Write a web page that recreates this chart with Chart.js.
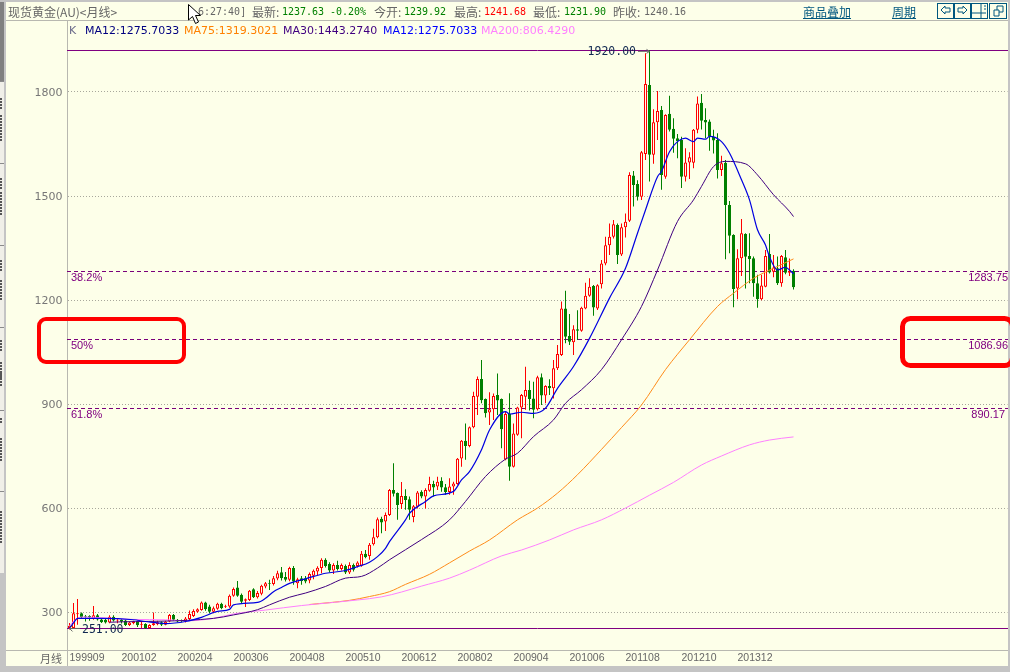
<!DOCTYPE html>
<html lang="zh"><head><meta charset="utf-8"><title>现货黄金</title>
<script src="https://cdn.jsdelivr.net/npm/chart.js@4"></script>
<style>
html,body{margin:0;padding:0;background:#fdffe9;overflow:hidden}
#wrap{position:relative;width:1010px;height:672px;overflow:hidden}
canvas{position:absolute;left:0;top:0}
.t{position:absolute;white-space:pre;line-height:14px;top:5px;font:10px/14px "DejaVu Sans Mono",monospace;color:#666}
.c{font:12px/14px "Noto Sans CJK SC",sans-serif;color:#666}
.g{color:#008000}.r{color:#ff0000}
.l{font:12px/14px "Noto Sans CJK SC",sans-serif;color:#00577f;text-decoration:underline}
.m{top:24px;font:11px/14px "DejaVu Sans",sans-serif}
.b{position:absolute;top:3px;height:14px;width:15px;border:1px solid #00577f}
svg{position:absolute;left:0;top:0}
</style></head><body><div id="wrap">
<canvas id="c" width="1010" height="672"></canvas>
<span class="t c" style="left:8px;top:5px">现货黄金(AU)&lt;月线&gt;</span>
<span class="t" style="left:198px">6:27:40]</span>
<span class="t c" style="left:252px">最新:</span><span class="t g" style="left:282px">1237.63</span><span class="t g" style="left:330px">-0.20%</span>
<span class="t c" style="left:374px">今开:</span><span class="t g" style="left:404px">1239.92</span>
<span class="t c" style="left:454px">最高:</span><span class="t r" style="left:484px">1241.68</span>
<span class="t c" style="left:533px">最低:</span><span class="t g" style="left:564px">1231.90</span>
<span class="t c" style="left:613px">昨收:</span><span class="t" style="left:644px">1240.16</span>
<span class="t l" style="left:803px">商品叠加</span><span class="t l" style="left:892px">周期</span>
<span class="t m" style="left:69px;color:#6a6a8a">K</span>
<span class="t m" style="left:85px;color:#000080">MA12:1275.7033</span>
<span class="t m" style="left:184px;color:#ff8000">MA75:1319.3021</span>
<span class="t m" style="left:283px;color:#400080">MA30:1443.2740</span>
<span class="t m" style="left:383px;color:#0000ff">MA12:1275.7033</span>
<span class="t m" style="left:481px;color:#ff80ff">MA200:806.4290</span>
<span class="t c" style="left:40px;top:651px;font-size:11px">月线</span>
<div class="b" style="left:937px"></div><div class="b" style="left:954px"></div><div class="b" style="left:971px"></div><div class="b" style="left:989px;width:16px"></div>
<svg width="1010" height="40" viewBox="0 0 1010 40">
<path d="M941 10l4-4v2h5v4h-5v2z M958 8h5v-2l4 4-4 4v-2h-5z" fill="none" stroke="#00577f"/>
<path d="M972 13h14M981 4v14M984 6h2M984 9h2" fill="none" stroke="#00577f"/>
<path d="M994 10h5v6h-5zM997 10v-4h6v6h-4" fill="none" stroke="#00577f"/>
<path d="M188.500 4.500V20l4-3.500 3 7 3-1.500-3-6.500h5z" fill="#fff" stroke="#000"/>
</svg>
</div>
<script>
const tickLabels=['199909','200102','200204','200306','200408','200510','200612','200802','200904','201006','201108','201210','201312'];
const tickSlots=[0,13,27,41,55,69,83,97,111,125,139,153,167];
const yTicks=[300,600,900,1200,1500,1800];
const slotCount=235;

const opens=[255,255,295,298,290,290,281,292,280,279,271,288,277,279,277,264,269,274,265,267,255,264,266,272,265,274,293,279,277,274,281,290,302,307,329,317,302,311,325,316,317,348,372,351,334,336,367,344,354,375,385,382,398,416,402,394,428,384,399,399,392,406,418,428,452,440,421,437,425,434,415,437,434,435,469,463,497,517,570,562,581,653,644,613,636,626,575,605,648,634,651,670,663,680,661,647,663,670,744,795,780,834,922,973,915,876,886,927,915,741,872,720,812,891,922,941,917,886,978,925,953,946,1004,1042,1176,1097,1079,1116,1112,1176,1213,1241,1176,1246,1306,1358,1383,1417,1332,1410,1429,1559,1535,1498,1621,1820,1619,1713,1748,1556,1737,1694,1667,1662,1556,1597,1596,1691,1769,1719,1715,1671,1662,1575,1596,1474,1388,1234,1321,1391,1327,1321,1249,1203,1239,1333,1282,1292,1249,1324,1279,1285];
const closes=[262,298,298,286,288,286,292,280,272,271,288,277,279,273,264,271,274,263,267,255,264,269,272,265,273,293,279,274,275,283,296,304,309,329,309,302,312,325,312,318,348,368,348,331,338,363,344,356,377,384,383,399,413,399,394,428,389,396,391,389,411,420,429,452,434,421,437,425,437,415,437,423,444,469,459,495,517,569,559,581,653,642,610,636,624,596,606,646,634,653,670,660,677,660,647,663,672,743,795,780,834,924,973,912,874,886,924,911,828,872,720,816,891,927,941,915,884,978,925,953,946,1004,1045,1176,1095,1080,1116,1112,1178,1213,1239,1179,1243,1306,1358,1383,1419,1330,1410,1426,1561,1532,1498,1626,1823,1619,1713,1745,1561,1734,1691,1665,1659,1556,1597,1612,1691,1767,1717,1712,1671,1660,1575,1595,1474,1386,1232,1321,1393,1325,1319,1249,1203,1242,1327,1280,1294,1249,1327,1279,1285,1237];
const highs=[270,327,339,300,293,292,319,296,282,281,292,292,281,281,279,273,276,276,274,269,266,300,276,275,276,296,296,281,280,287,306,309,312,332,331,322,317,328,328,322,352,372,391,355,340,365,370,362,380,388,394,405,420,431,417,432,434,400,405,405,415,424,433,456,456,445,442,449,441,438,445,441,448,477,480,500,541,574,576,588,656,730,646,676,655,634,610,650,652,658,691,680,691,690,670,687,677,745,797,845,836,936,980,1028,917,935,931,989,917,879,932,845,893,930,1008,968,965,982,989,955,972,1028,1071,1196,1227,1160,1128,1171,1181,1250,1263,1244,1246,1316,1383,1421,1431,1421,1421,1450,1569,1572,1546,1630,1912,1920,1750,1803,1760,1736,1789,1724,1679,1671,1638,1626,1693,1787,1794,1753,1721,1691,1681,1616,1604,1486,1390,1347,1434,1393,1393,1326,1273,1273,1345,1391,1330,1326,1330,1345,1320,1289];
const lows=[251,254,265,283,274,276,279,277,270,268,269,274,269,268,261,261,266,258,255,253,253,262,263,261,263,272,276,272,272,271,277,287,299,305,305,298,298,308,309,313,314,345,345,325,316,333,342,340,350,370,365,378,393,392,389,390,380,370,380,384,384,396,408,413,430,415,411,421,421,411,411,418,430,432,456,452,493,514,528,535,578,634,567,598,596,567,560,600,629,600,648,634,653,648,639,639,639,668,720,740,776,831,869,903,862,840,855,869,773,739,680,718,809,802,884,882,860,882,898,903,927,917,999,1039,1076,1071,1042,1085,1109,1174,1210,1155,1172,1234,1301,1330,1378,1304,1327,1381,1425,1470,1487,1489,1604,1542,1593,1662,1518,1550,1686,1625,1609,1523,1542,1549,1580,1681,1692,1667,1631,1623,1551,1558,1318,1335,1180,1203,1270,1234,1249,1210,1178,1200,1237,1277,1266,1244,1239,1275,1270,1231];

const ma12Slots=[0,1,2,8,16,19,24,29,33,37,40,41,47,49,51,53,55,59,64,69,72,75,77,79,80,84,85,89,91,96,98,100,103,105,109,110,113,116,119,122,126,130,135,139,142,144,147,148,150,152,154,156,157,159,160,163,165,168,170,172,174,175,177,179,180,181];
const ma12Values=[255,270,283,283,279,274,268,274,286,303,309,322,329,341,360,372,384,397,413,421,432,445,461,485,504,567,586,620,636,649,682,706,769,826,879,872,877,874,889,946,1009,1090,1206,1292,1393,1460,1556,1571,1628,1657,1667,1657,1667,1664,1672,1657,1624,1547,1489,1403,1359,1325,1287,1295,1287,1276];
const ma30Slots=[10,36,41,47,50,55,59,64,69,73,77,80,88,95,99,104,109,112,116,121,124,128,133,138,143,147,152,156,158,161,164,169,172,176,180,181];
const ma30Values=[272,283,293,308,322,344,356,375,399,404,428,452,510,567,620,692,742,759,807,855,903,942,1000,1086,1182,1287,1427,1489,1528,1585,1600,1593,1561,1504,1456,1441];
const ma75Slots=[60,70,75,80,84,90,95,100,105,112,117,122,127,133,138,143,149,155,162,166,171,176,181];
const ma75Values=[323,335,346,360,381,410,443,477,509,567,601,644,697,770,833,898,1000,1086,1182,1220,1263,1292,1319];
const ma200Slots=[0,1,2,3,16,24,29,36,41,49,58,66,72,78,83,88,95,100,108,113,120,126,133,139,145,151,158,163,170,175,181];
const ma200Values=[261,275,283,287,280,279,276,283,296,307,320,329,336,345,359,376,399,422,463,480,509,538,567,601,638,675,725,751,783,797,806];

const extremeLevels=[1920,254];
const fibLevels=[1283.75,1086.96,890.17];
const fibPercents=['38.2%','50%','61.8%'];
const fibValueLabels=['1283.75','1086.96','890.17'];

const BG='#fdffe9',RED='#ff0000',GREEN='#008000';
const labels=Array.from({length:slotCount},(_,i)=>{const k=tickSlots.indexOf(i);return k>=0?tickLabels[k]:'';});
const up=opens.map((o,i)=>closes[i]>=o);
const sparse=(slots,vals)=>{const a=Array(slotCount).fill(null);slots.forEach((s,i)=>a[s]=vals[i]);return a;};
const maLine=(label,slots,vals,color,order,w)=>({type:'line',label,data:sparse(slots,vals),borderColor:color,borderWidth:w,pointRadius:0,spanGaps:true,cubicInterpolationMode:'monotone',order});

const frame={id:'frame',
 beforeDraw(ch){const c=ch.ctx;c.save();
  c.fillStyle=BG;c.fillRect(0,0,1010,672);
  c.fillStyle='#c4c4c4';c.fillRect(0,0,1010,2);c.fillRect(1008,0,2,672);c.fillRect(0,666,1010,6);c.fillRect(4,0,2,672);
  c.fillStyle='#f0efe8';c.fillRect(0,2,4,664);
  c.fillStyle='#808080';c.fillRect(0,2,4,80);
  c.fillStyle='#c4c4c4';c.fillRect(0,573,4,95);
  c.fillStyle='#8a8a8a';[81,163,245,327,410,491].forEach(y=>c.fillRect(0,y,4,1));
  c.fillStyle='#555';[[98,12],[115,26],[178,10],[192,24],[260,12],[280,20],[340,12],[362,18],[372,14],[418,6],[438,22],[511,32]].forEach(([y,h])=>{for(let k=0;k<h;k+=3)c.fillRect(0,y+k,2,2);});
  c.fillStyle='#b8b8b0';c.fillRect(6,20,1002,1);c.fillRect(6,650,1002,1);c.fillRect(67,21,1,645);
  c.restore();},
 beforeDatasetsDraw(ch){const c=ch.ctx,y=ch.scales.y,L=67,R=1008;c.save();c.lineWidth=1;
  c.strokeStyle='#800080';extremeLevels.forEach(v=>{const p=Math.round(y.getPixelForValue(v))+.5;c.beginPath();c.moveTo(L,p);c.lineTo(R,p);c.stroke();});
  c.strokeStyle='#7a007a';c.setLineDash([4,3]);fibLevels.forEach(v=>{const p=Math.round(y.getPixelForValue(v))+.5;c.beginPath();c.moveTo(L,p);c.lineTo(R,p);c.stroke();});
  c.restore();},
 afterDatasetsDraw(ch){const c=ch.ctx,y=ch.scales.y,x=ch.scales.x;c.save();
  c.font='11px "Liberation Sans"';c.fillStyle='#800080';c.textBaseline='middle';
  fibLevels.forEach((v,i)=>{const p=y.getPixelForValue(v)+7;c.textAlign='left';c.fillText(fibPercents[i],71,p);c.textAlign='right';c.fillText(fibValueLabels[i],i==2?1005:1008,p);});
  const hiX=x.getPixelForValue(145),hiY=y.getPixelForValue(1920),loX=x.getPixelForValue(0),loY=y.getPixelForValue(254);
  c.font='11.500px "DejaVu Sans Mono"';c.fillStyle='#102850';
  c.textAlign='right';c.fillText('1920.00',636,hiY+2);
  c.textAlign='left';c.fillText('251.00',82,loY+2);
  c.strokeStyle='#666';c.lineWidth=1;c.beginPath();
  c.moveTo(638,hiY+1);c.lineTo(hiX,hiY+1);c.moveTo(hiX-3,hiY-1);c.lineTo(hiX,hiY+1);c.lineTo(hiX-3,hiY+3);
  c.moveTo(80,loY);c.lineTo(loX,loY);c.moveTo(loX+3,loY-3);c.lineTo(loX,loY);c.lineTo(loX+3,loY+3);c.stroke();
  c.strokeStyle='#ff0000';c.lineWidth=4;c.beginPath();c.roundRect(39,319,145,43,7);c.stroke();
  c.lineWidth=5;c.beginPath();c.roundRect(902.5,318.500,110,47,8);c.stroke();
  c.restore();}
};

new Chart(document.getElementById('c'),{
 data:{labels,datasets:[
  {type:'bar',label:'wick',data:lows.map((l,i)=>[l,highs[i]]),backgroundColor:up.map(u=>u?RED:GREEN),barThickness:1,borderWidth:0,inflateAmount:0,grouped:false,order:4},
  {type:'bar',label:'K',data:opens.map((o,i)=>[o,closes[i]]),backgroundColor:up.map(u=>u?BG:GREEN),borderColor:up.map(u=>u?RED:GREEN),borderWidth:1,borderSkipped:false,barThickness:3,inflateAmount:0,grouped:false,order:3},
  maLine('MA200',ma200Slots,ma200Values,'#ff80ff',2,1),
  maLine('MA75',ma75Slots,ma75Values,'#ff8c1a',2,1),
  maLine('MA30',ma30Slots,ma30Values,'#400080',1,1),
  maLine('MA12',ma12Slots,ma12Values,'#0000e0',0,1.2)
 ]},
 plugins:[frame],
 options:{responsive:false,animation:false,devicePixelRatio:1,
  layout:{padding:{left:0,top:21,right:2.5,bottom:0}},
  plugins:{legend:{display:false},tooltip:{enabled:false}},
  scales:{
   x:{type:'category',offset:true,grid:{display:false,drawTicks:false},border:{display:false},
      afterFit(s){s.height=22;},
      ticks:{autoSkip:false,maxRotation:0,minRotation:0,align:'start',padding:2,color:'#666',font:{family:'Liberation Sans',size:10.5},callback(v,i){return labels[i];}}},
   y:{type:'linear',min:191.9,max:2004.6,position:'left',border:{display:false,dash:[1,2]},
      afterFit(s){s.width=67.5;},
      afterBuildTicks(s){s.ticks=yTicks.map(v=>({value:v}));},
      grid:{color:'#a8a89c',lineWidth:1,drawTicks:false},
      ticks:{padding:5,labelOffset:1,color:'#777',font:{family:'DejaVu Sans',size:11},callback:v=>String(v)}}
  }}
});
</script></body></html>
